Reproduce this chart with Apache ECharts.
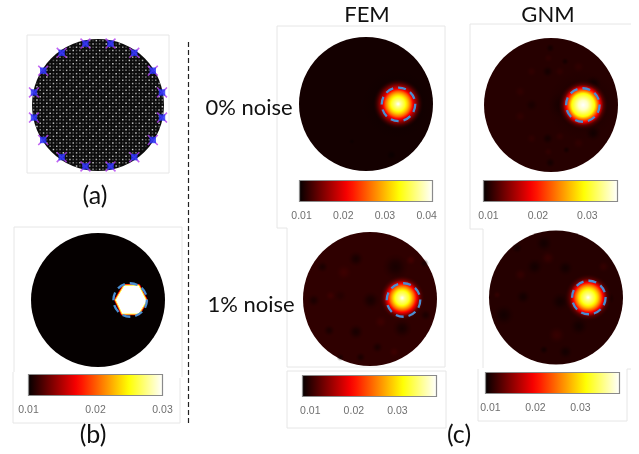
<!DOCTYPE html>
<html><head><meta charset="utf-8">
<style>html,body{margin:0;padding:0;background:#fff}#c{width:639px;height:454px}</style>
<script src="https://cdn.jsdelivr.net/npm/echarts@6/dist/echarts.min.js"></script>
</head><body><div id="c"></div>
<script>
// ---- values (unit disc coordinates, conductivity values) ----
const meshX = [-.975,-.925,-.875,-.825,-.775,-.725,-.675,-.625,-.575,-.525,-.475,-.425,-.375,-.325,-.275,-.225,-.175,-.125,-.075,-.025,.025,.075,.125,.175,.225,.275,.325,.375,.425,.475,.525,.575,.625,.675,.725,.775,.825,.875,.925,.975];
const meshY = meshX;
const meshShade = [.8,.3,.55,.25,.7,.35,.5,.2];
const electrodeX = [-.19,.19,.55,.83,.97,.97,.83,.55,.19,-.19,-.55,-.83,-.97,-.97,-.83,-.55];
const electrodeY = [.93,.93,.79,.52,.19,-.19,-.53,-.79,-.93,-.93,-.79,-.53,-.19,.19,.52,.79];
const hexX = [.39,.61,.73,.61,.36,.26];
const hexY = [.22,.22,-.015,-.21,-.21,0];

const barFemClean = [.0095,.0414], ticksFemClean = [.01,.02,.03,.04];
const barGnmClean = [.009,.0361],  ticksGnmClean = [.01,.02,.03];
const barFemNoisy = [.0082,.039],  ticksFemNoisy = [.01,.02,.03];
const barGnmNoisy = [.0089,.0387], ticksGnmNoisy = [.01,.02,.03];
const barTruth    = [.01,.03],     ticksTruth    = [.01,.02,.03];

const radiusFemClean = [0,.04,.10,.15,.19,.23,.30,.38];
const valueFemClean  = [.0414,.038,.0345,.030,.0255,.0195,.0135,.0102];
const radiusGnmClean = [0,.07,.17,.21,.25,.30,.38];
const valueGnmClean  = [.0361,.0345,.0293,.024,.019,.0125,.0098];
const radiusFemNoisy = [0,.04,.10,.14,.18,.22,.27,.34];
const valueFemNoisy  = [.039,.0355,.0325,.0285,.024,.0185,.0125,.0101];
const radiusGnmNoisy = [0,.04,.10,.15,.19,.23,.28,.36];
const valueGnmNoisy  = [.0387,.0355,.0325,.0285,.024,.0185,.0125,.0102];

const spotsFemClean = [[.46,0,.52,.0096],[.38,-.76,.08,.0096],[-.21,-.56,.05,.0098]];
const spotsGnmClean = [[.46,0,.52,.0094],[.16,0,.2,.0095],[-.05,.5,.09,.0093],[-.05,-.5,.09,.0093],[-.01,-.86,.08,.0093],[-.01,.85,.07,.0093],[.21,.65,.06,.0093],[.23,-.67,.06,.0093],[-.29,0,.1,.0096],[.63,.32,.12,.0092],[.63,-.42,.12,.0092],[-.46,.2,.09,.0109],[-.46,-.17,.09,.0109],[-.29,.5,.08,.0109],[-.29,-.5,.08,.0109],[.41,.57,.09,.0109],[.41,-.57,.09,.0109],[.13,.5,.08,.0109],[.13,-.47,.08,.0109],[-.04,.7,.07,.0109],[-.04,-.7,.07,.0109]];
const spotsFemNoisy = [[.38,.48,.2,.0086],[-.21,-.49,.12,.0086],[.01,-.02,.14,.0086],[-.84,-.02,.1,.0088],[-.71,.48,.09,.0088],[-.61,-.47,.09,.0088],[.48,-.44,.15,.0086],[-.21,.6,.12,.0086],[.81,.53,.07,.0088],[.83,-.24,.09,.0088],[-.14,-.87,.08,.0088],[-.44,-.87,.06,.0088],[.11,-.72,.09,.0088],[-.44,.05,.1,.0094],[.61,.58,.08,.0113],[-.39,.4,.12,.0110],[.16,-.34,.1,.0110],[-.59,.05,.08,.0110],[.36,-.79,.08,.0110]];
const spotsGnmNoisy = [[-.32,.46,.13,.0092],[-.49,.01,.11,.0092],[-.78,-.26,.16,.0092],[-.18,.81,.13,.0092],[.34,-.43,.14,.0092],[.14,-.81,.11,.0092],[-.18,-.78,.07,.0092],[.79,-.01,.09,.0092],[.14,.44,.12,.0092],[-.58,.74,.08,.0092],[.06,-.06,.14,.0092],[-.12,.59,.11,.0114],[.01,-.56,.13,.0114],[-.53,.34,.1,.0112],[-.88,.04,.06,.0112],[.71,.46,.09,.0112]];

// ---- colour map ----
const hotStops = [[0,[5,0,0]],[.365,[255,0,0]],[.746,[255,255,0]],[1,[255,255,255]]];
function hot(t,a){
  t=Math.max(0,Math.min(1,t));
  for(let i=1;i<hotStops.length;i++){
    if(t<=hotStops[i][0]){
      const p=hotStops[i-1],q=hotStops[i],f=(t-p[0])/(q[0]-p[0]);
      const c=p[1].map((v,k)=>Math.round(v+(q[1][k]-v)*f));
      return `rgba(${c[0]},${c[1]},${c[2]},${a===undefined?1:a})`;
    }
  }
  return `rgba(255,255,255,${a===undefined?1:a})`;
}
const G = echarts.graphic;

// ---- layout ----
const grids=[],xAxes=[],yAxes=[],series=[];
function addDiscGrid(cx,cy,r){
  const i=grids.length;
  grids.push({left:cx-r,top:cy-r,width:2*r,height:2*r,show:false});
  xAxes.push({gridIndex:i,type:'value',min:-1,max:1,show:false});
  yAxes.push({gridIndex:i,type:'value',min:-1,max:1,show:false});
  return i;
}
function custom(i,data,render,z){
  series.push({type:'custom',xAxisIndex:i,yAxisIndex:i,coordinateSystem:'cartesian2d',data,renderItem:render,silent:true,clip:false,z:z||2,animation:false});
}
function circleShape(api){
  const c=api.coord([api.value(0),api.value(1)]);
  const s=api.size([api.value(2),api.value(2)]);
  return {cx:c[0],cy:c[1],r:s[0]};
}
const discRender=range=>(p,api)=>({type:'circle',shape:circleShape(api),style:{fill:hot((api.value(3)-range[0])/(range[1]-range[0]))}});
const spotRender=range=>(p,api)=>{
  const t=(api.value(3)-range[0])/(range[1]-range[0]);
  return {type:'circle',shape:circleShape(api),style:{fill:new G.RadialGradient(.5,.5,.5,[{offset:0,color:hot(t,.7)},{offset:.35,color:hot(t,.5)},{offset:.7,color:hot(t,.16)},{offset:1,color:hot(t,0)}])}};
};
const blobRender=(range,radius,value)=>(p,api)=>{
  const R=radius[radius.length-1],stops=[];
  for(let i=0;i<radius.length-1;i++){
    for(let k=0;k<5;k++){
      const f=k/5,v=value[i]+(value[i+1]-value[i])*f,r=radius[i]+(radius[i+1]-radius[i])*f;
      const near=1-Math.max(0,(r-radius[radius.length-2])/(R-radius[radius.length-2]));
      stops.push({offset:r/R,color:hot((v-range[0])/(range[1]-range[0]),near)});
    }
  }
  stops.push({offset:1,color:hot((value[value.length-1]-range[0])/(range[1]-range[0]),0)});
  return {type:'circle',shape:circleShape(api),style:{fill:new G.RadialGradient(.5,.5,.5,stops)}};
};
const ringRender=(p,api)=>({type:'circle',shape:circleShape(api),style:{fill:'none',stroke:'#4a8ed2',lineWidth:2.3,lineDash:[8,5]}});

function heatPanel(cx,cy,r,range,bg,spots,radius,value,blobX,blobY,ringX,ringY){
  const i=addDiscGrid(cx,cy,r);
  custom(i,[[0,0,1,bg]],discRender(range),2);
  custom(i,spots,spotRender(range),3);
  custom(i,[[blobX,blobY,radius[radius.length-1]]],blobRender(range,radius,value),4);
  custom(i,[[ringX,ringY,.25]],ringRender,5);
}
function colorBar(left,top,w,h,range,ticks,labelGap){
  const i=grids.length;
  grids.push({left,top,width:w,height:h,show:true,borderColor:'#8a8a8a',borderWidth:1.2,backgroundColor:'transparent',z:6});
  xAxes.push({gridIndex:i,type:'value',min:range[0],max:range[1],position:'bottom',
    axisLine:{show:false},splitLine:{show:false},
    axisTick:{show:true,inside:true,length:2,customValues:ticks,lineStyle:{color:'#555',width:.6}},
    axisLabel:{show:true,customValues:ticks,formatter:v=>v.toFixed(2),color:'#6f6f6f',fontFamily:'Liberation Sans',fontSize:10.5,margin:labelGap,hideOverlap:false}});
  yAxes.push({gridIndex:i,type:'value',min:0,max:1,show:false});
  custom(i,[[range[0],0,range[1],1]],(p,api)=>{
    const a=api.coord([api.value(0),api.value(3)]),b=api.coord([api.value(2),api.value(1)]);
    const st=[];for(let k=0;k<=20;k++)st.push({offset:k/20,color:hot(k/20)});
    return {type:'rect',shape:{x:a[0],y:a[1],width:b[0]-a[0],height:b[1]-a[1]},style:{fill:new G.LinearGradient(0,0,1,0,st)}};
  },3);
}

// panel (a): mesh and electrodes
const aIdx=addDiscGrid(98,105,66);
custom(aIdx,[[0,0,1,0]],(p,api)=>({type:'circle',shape:circleShape(api),style:{fill:'#0b0b0b'}}),2);
const meshData=[];
meshX.forEach((x,ix)=>meshY.forEach((y,iy)=>{
  if(x*x+y*y<.97) meshData.push({value:[x,y],itemStyle:{opacity:meshShade[(ix+iy*3)%meshShade.length]}});
}));
series.push({type:'scatter',xAxisIndex:aIdx,yAxisIndex:aIdx,data:meshData,symbol:'rect',symbolSize:1.5,itemStyle:{color:'#fff'},silent:true,z:3,animation:false,clip:false,large:false});
const electrodes=electrodeX.map((x,i)=>[x,electrodeY[i]]);
series.push({type:'scatter',xAxisIndex:aIdx,yAxisIndex:aIdx,data:electrodes,symbol:'path://M0 1 L1 0 L5 4 L9 0 L10 1 L6 5 L10 9 L9 10 L5 6 L1 10 L0 9 L4 5 Z',symbolSize:11,itemStyle:{color:'#b13cf0'},silent:true,z:4,animation:false,clip:false});
series.push({type:'scatter',xAxisIndex:aIdx,yAxisIndex:aIdx,data:electrodes,symbol:'rect',symbolSize:6.4,itemStyle:{color:'#2233f5'},silent:true,z:5,animation:false,clip:false});

// panel (b): true phantom
const bIdx=addDiscGrid(98,300,67);
custom(bIdx,[[0,0,1,.01]],discRender(barTruth),2);
custom(bIdx,[[0]],(p,api)=>{
  const pts=hexX.map((x,i)=>api.coord([x,hexY[i]]));
  return {type:'group',children:[
    {type:'polygon',shape:{points:pts},style:{fill:'#fff',stroke:hot(.37),lineWidth:2.6,lineJoin:'round'}},
    {type:'polygon',shape:{points:pts},style:{fill:'#fff',stroke:hot(.8),lineWidth:1}}
  ]};
},3);
custom(bIdx,[[.48,0,.25]],ringRender,5);

heatPanel(366,104,67,barFemClean,.0102,spotsFemClean,radiusFemClean,valueFemClean,.48,0,.485,-.005);
heatPanel(551,105,67,barGnmClean,.0103,spotsGnmClean,radiusGnmClean,valueGnmClean,.48,0,.475,0);
heatPanel(370,299,67,barFemNoisy,.0101,spotsFemNoisy,radiusFemNoisy,valueFemNoisy,.48,.015,.5,-.015);
heatPanel(556,297.5,67,barGnmNoisy,.0103,spotsGnmNoisy,radiusGnmNoisy,valueGnmNoisy,.48,0,.49,0);

colorBar(28.5,374.5,134,21,barTruth,ticksTruth,9);
colorBar(299.5,180.5,133,21,barFemClean,ticksFemClean,9);
colorBar(483.5,180.5,134,21,barGnmClean,ticksGnmClean,9);
colorBar(302.5,375.5,134,21,barFemNoisy,ticksFemNoisy,9);
colorBar(485.5,372.5,134,21,barGnmNoisy,ticksGnmNoisy,9);

// ---- annotations ----
const frameColor='#e6e6e6';
const frames=[
  [[27,35],[169,35],[169,173],[27,173],[27,35]],
  [[14,372],[14,227],[182,227],[182,377]],
  [[13,372],[13,423],[180,423],[180,378]],
  [[287,367],[287,228],[277,228],[277,26],[445,26],[445,367],[287,367]],
  [[287,371],[446,371],[446,428],[287,428],[287,371]],
  [[483,368],[483,229],[470,229],[470,24],[631,24]],
  [[478,369],[478,421],[627,421],[627,369],[631,369]]
].map(pts=>({type:'polyline',silent:true,z:0,shape:{points:pts},style:{stroke:frameColor,lineWidth:1,fill:'none'}}));
const label=(text,x,y,size)=>({type:'text',silent:true,z:10,style:{text,x,y,fill:'#111',font:`${size}px Lato`,textAlign:'center',textVerticalAlign:'middle'}});
const labels=[
  label('FEM',367,15,22),label('GNM',548,15,22),
  label('0% noise',249,108,22),label('1% noise',251,305,22),
  label('(a)',95,196,25),label('(b)',93,435,25),label('(c)',459,435,25)
];
const divider={type:'line',silent:true,z:1,shape:{x1:188.5,y1:42,x2:188.5,y2:424},style:{stroke:'#222',lineWidth:1.2,lineDash:[5,3]}};

const chart=echarts.init(document.getElementById('c'),null,{renderer:'canvas'});
chart.setOption({animation:false,backgroundColor:'#fff',grid:grids,xAxis:xAxes,yAxis:yAxes,series,graphic:[...frames,divider,...labels]});
</script></body></html>
